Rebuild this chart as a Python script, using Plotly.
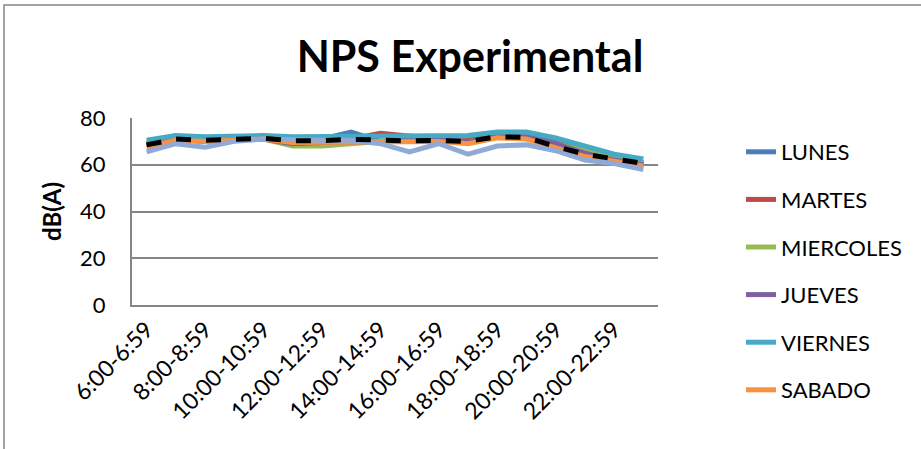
import plotly.graph_objects as go

categories = [f"{h}:00-{h}:59" for h in range(6, 24)]
tick_labels = categories[::2]

lunes     = [69, 72, 71, 72, 72, 71, 71, 74, 70, 71, 71, 71, 73, 73, 70, 67, 63, 61]
martes    = [69, 71, 71, 71, 72, 70, 70, 71, 73.5, 72, 71, 71, 72, 72, 69, 66, 62, 60]
miercoles = [69, 71, 70, 71, 71, 68, 68, 69, 70, 71, 71, 70, 72, 72, 69, 66, 63, 61]
jueves    = [68, 71, 70, 71, 71, 69, 69.5, 70, 69.5, 71, 71, 70, 72, 72, 69, 65, 62, 60]
viernes   = [70.5, 72.5, 72, 72.5, 72.5, 72, 72, 72.5, 72, 72, 72, 72.5, 74, 74, 71.5, 68, 64.5, 62.5]
sabado    = [67.5, 70.5, 70, 70.5, 71, 69.5, 69.5, 70, 70, 69.5, 70, 69, 71.5, 71, 67, 63.5, 61.5, 59.5]
domingo   = [65.5, 69, 67.5, 70, 71, 70.5, 70.5, 70.5, 69, 65.5, 69, 64.5, 68, 68.5, 66, 62, 60.5, 58]
promedio  = [68.5, 71, 70.5, 71, 71.3, 70.3, 70.3, 70.9, 70.5, 70.2, 70.4, 70, 72, 71.7, 67.8, 64.5, 62.5, 60.6]

series = [
    ("LUNES", lunes, "#4A7EBB", True),
    ("MARTES", martes, "#BE4B48", True),
    ("MIERCOLES", miercoles, "#98B954", True),
    ("JUEVES", jueves, "#7D60A0", True),
    ("VIERNES", viernes, "#46AAC5", True),
    ("SABADO", sabado, "#F69240", True),
    ("DOMINGO", domingo, "#8FAAD6", False),
]

FONT = "Lato"
fig = go.Figure()
for name, vals, color, show in series:
    fig.add_trace(go.Scatter(x=categories, y=vals, name=name, mode="lines",
                             line=dict(color=color, width=5),
                             showlegend=show, legendgroup=name))
fig.add_trace(go.Scatter(x=categories, y=promedio, name="PROMEDIO", mode="lines",
                         line=dict(color="black", width=5, dash="dash"),
                         showlegend=False))

L, R, T, B = 132, 921 - 658, 118, 449 - 305
W, H = 921 - L - R, 449 - T - B

def px(x):
    return (x - L) / W

def py(y):
    return (449 - B - y) / H

fig.update_layout(
    width=921, height=449,
    margin=dict(l=L, r=R, t=T, b=B),
    paper_bgcolor="white", plot_bgcolor="white",
    font=dict(family=FONT, size=22, color="black"),
    title=dict(text="<b>NPS Experimental</b>", xref="container", x=470 / 921,
               xanchor="center", yref="container", y=1 - 57 / 449,
               yanchor="middle", font=dict(size=43, family=FONT)),
    xaxis=dict(type="category", range=[-0.5, 17.5], tickmode="array",
               tickvals=tick_labels, ticktext=tick_labels, tickangle=-45,
               showgrid=False, showline=True, linecolor="#868686", linewidth=2,
               ticks="", tickfont=dict(size=23), zeroline=False),
    yaxis=dict(range=[0, 80], tickvals=[0, 20, 40, 60, 80], showgrid=True,
               gridcolor="#868686", gridwidth=1.5, showline=True,
               linecolor="#868686", linewidth=2, ticks="", zeroline=False,
               tickfont=dict(size=22), ticklabelstandoff=20,
               title=dict(text="<b>dB(A)</b>", font=dict(size=24), standoff=12)),
    legend=dict(x=px(741), xanchor="left", y=py(131), yanchor="top",
                font=dict(size=22), tracegroupgap=16, bgcolor="rgba(0,0,0,0)",
                traceorder="grouped", maxheight=440),
    shapes=[dict(type="rect", xref="paper", yref="paper",
                 x0=px(4), x1=px(940), y0=py(470), y1=py(5),
                 line=dict(color="#868686", width=1.5), layer="below")],
)

fig.write_html("out.html")
